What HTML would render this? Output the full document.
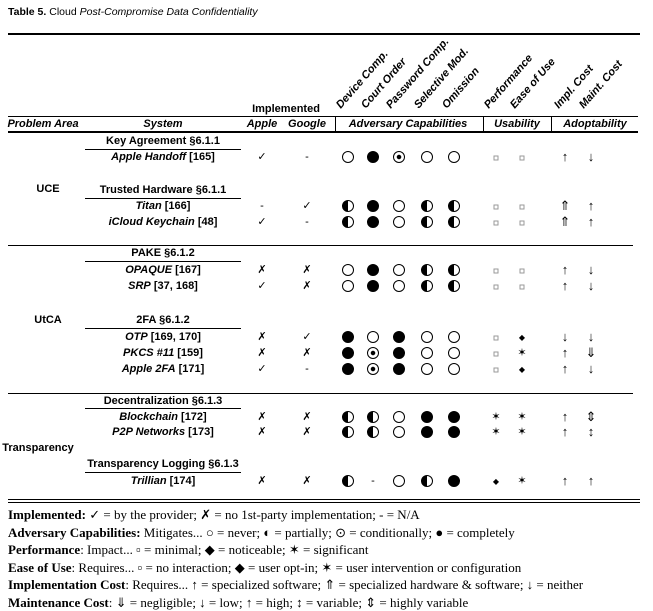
<!DOCTYPE html>
<html><head><meta charset="utf-8"><style>
body{margin:0;background:#fff;width:653px;height:609px;position:relative;overflow:hidden;font-family:"Liberation Sans",sans-serif;color:#000}
.a{position:absolute;white-space:nowrap}
.c{position:absolute;transform:translate(-50%,-50%);white-space:nowrap;font-size:11px;line-height:12px}
.ar{font-size:13px}
.b{font-weight:bold}
.i{font-style:italic}
.hl{position:absolute;background:#000;height:1px}
.vl{position:absolute;background:#000;width:1px}
.o{position:absolute;width:12px;height:12px;border:1px solid #000;border-radius:50%;transform:translate(-50%,-50%);box-sizing:border-box;background:#fff}
.f{background:#000}
.h{background:linear-gradient(to right,#000 50%,#fff 50%)}
.d{background:radial-gradient(circle,#000 0 2px,#fff 2.5px)}
.sq{position:absolute;width:5px;height:5px;border:1px solid #999;transform:translate(-50%,-50%);box-sizing:border-box}
.rot{position:absolute;transform-origin:left bottom;transform:rotate(-49deg);font-size:11px;font-style:italic;font-weight:bold;white-space:nowrap;line-height:12px}
.leg{position:absolute;left:8px;font-family:"Liberation Serif",serif;font-size:13px;white-space:nowrap}
</style></head><body>
<div class="a" style="left:8px;top:6px;font-size:10.5px"><b>Table 5.</b> Cloud <i>Post-Compromise Data Confidentiality</i></div>
<div class="hl" style="left:8px;top:33px;width:632px;height:2px"></div>

<div class="rot" style="left:343px;top:99px">Device Comp.</div>
<div class="rot" style="left:368px;top:99px">Court Order</div>
<div class="rot" style="left:393px;top:99px">Password Comp.</div>
<div class="rot" style="left:421px;top:99px">Selective Mod.</div>
<div class="rot" style="left:449px;top:99px">Omission</div>
<div class="rot" style="left:491px;top:99px">Performance</div>
<div class="rot" style="left:517px;top:99px">Ease of Use</div>
<div class="rot" style="left:561px;top:99px">Impl. Cost</div>
<div class="rot" style="left:586px;top:99px">Maint. Cost</div>
<div class="c b" style="left:286px;top:109px">Implemented</div>
<div class="hl" style="left:8px;top:116px;width:630px"></div>
<div class="vl" style="left:335px;top:117px;height:15px"></div>
<div class="vl" style="left:483px;top:117px;height:15px"></div>
<div class="vl" style="left:551px;top:117px;height:15px"></div>
<div class="c b i" style="left:43px;top:124px">Problem Area</div>
<div class="c b i" style="left:163px;top:124px">System</div>
<div class="c b i" style="left:262px;top:124px">Apple</div>
<div class="c b i" style="left:307px;top:124px">Google</div>
<div class="c b i" style="left:408px;top:124px">Adversary Capabilities</div>
<div class="c b i" style="left:517px;top:124px">Usability</div>
<div class="c b i" style="left:595px;top:124px">Adoptability</div>
<div class="hl" style="left:8px;top:131px;width:630px;height:2px"></div>

<div class="c b" style="left:163px;top:141px">Key Agreement §6.1.1</div>
<div class="hl" style="left:85px;top:149px;width:156px"></div>
<div class="c b" style="left:48px;top:189px">UCE</div>
<div class="c b" style="left:163px;top:190px">Trusted Hardware §6.1.1</div>
<div class="hl" style="left:85px;top:198px;width:156px"></div>
<div class="hl" style="left:8px;top:245px;width:625px"></div>
<div class="c b" style="left:163px;top:253px">PAKE §6.1.2</div>
<div class="hl" style="left:85px;top:261px;width:156px"></div>
<div class="c b" style="left:48px;top:320px">UtCA</div>
<div class="c b" style="left:163px;top:320px">2FA §6.1.2</div>
<div class="hl" style="left:85px;top:328px;width:156px"></div>
<div class="hl" style="left:8px;top:393px;width:625px"></div>
<div class="c b" style="left:163px;top:401px">Decentralization §6.1.3</div>
<div class="hl" style="left:85px;top:408px;width:156px"></div>
<div class="c b" style="left:38px;top:448px">Transparency</div>
<div class="c b" style="left:163px;top:464px">Transparency Logging §6.1.3</div>
<div class="hl" style="left:85px;top:472px;width:156px"></div>

<div class="c b" style="left:163px;top:157px"><i>Apple Handoff</i> [165]</div>
<div class="c" style="left:262px;top:157px">✓</div><div class="c" style="left:307px;top:157px">-</div>
<div class="o" style="left:348px;top:157px"></div><div class="o f" style="left:373px;top:157px"></div><div class="o d" style="left:399px;top:157px"></div><div class="o" style="left:427px;top:157px"></div><div class="o" style="left:454px;top:157px"></div>
<div class="sq" style="left:496px;top:158px"></div><div class="sq" style="left:522px;top:158px"></div>
<div class="c ar" style="left:565px;top:157px">↑</div><div class="c ar" style="left:591px;top:157px">↓</div>

<div class="c b" style="left:163px;top:206px"><i>Titan</i> [166]</div>
<div class="c" style="left:262px;top:206px">-</div><div class="c" style="left:307px;top:206px">✓</div>
<div class="o h" style="left:348px;top:206px"></div><div class="o f" style="left:373px;top:206px"></div><div class="o" style="left:399px;top:206px"></div><div class="o h" style="left:427px;top:206px"></div><div class="o h" style="left:454px;top:206px"></div>
<div class="sq" style="left:496px;top:207px"></div><div class="sq" style="left:522px;top:207px"></div>
<div class="c ar" style="left:565px;top:206px">⇑</div><div class="c ar" style="left:591px;top:206px">↑</div>

<div class="c b" style="left:163px;top:222px"><i>iCloud Keychain</i> [48]</div>
<div class="c" style="left:262px;top:222px">✓</div><div class="c" style="left:307px;top:222px">-</div>
<div class="o h" style="left:348px;top:222px"></div><div class="o f" style="left:373px;top:222px"></div><div class="o" style="left:399px;top:222px"></div><div class="o h" style="left:427px;top:222px"></div><div class="o h" style="left:454px;top:222px"></div>
<div class="sq" style="left:496px;top:223px"></div><div class="sq" style="left:522px;top:223px"></div>
<div class="c ar" style="left:565px;top:222px">⇑</div><div class="c ar" style="left:591px;top:222px">↑</div>

<div class="c b" style="left:163px;top:270px"><i>OPAQUE</i> [167]</div>
<div class="c" style="left:262px;top:270px">✗</div><div class="c" style="left:307px;top:270px">✗</div>
<div class="o" style="left:348px;top:270px"></div><div class="o f" style="left:373px;top:270px"></div><div class="o" style="left:399px;top:270px"></div><div class="o h" style="left:427px;top:270px"></div><div class="o h" style="left:454px;top:270px"></div>
<div class="sq" style="left:496px;top:271px"></div><div class="sq" style="left:522px;top:271px"></div>
<div class="c ar" style="left:565px;top:270px">↑</div><div class="c ar" style="left:591px;top:270px">↓</div>

<div class="c b" style="left:163px;top:286px"><i>SRP</i> [37, 168]</div>
<div class="c" style="left:262px;top:286px">✓</div><div class="c" style="left:307px;top:286px">✗</div>
<div class="o" style="left:348px;top:286px"></div><div class="o f" style="left:373px;top:286px"></div><div class="o" style="left:399px;top:286px"></div><div class="o h" style="left:427px;top:286px"></div><div class="o h" style="left:454px;top:286px"></div>
<div class="sq" style="left:496px;top:287px"></div><div class="sq" style="left:522px;top:287px"></div>
<div class="c ar" style="left:565px;top:286px">↑</div><div class="c ar" style="left:591px;top:286px">↓</div>

<div class="c b" style="left:163px;top:337px"><i>OTP</i> [169, 170]</div>
<div class="c" style="left:262px;top:337px">✗</div><div class="c" style="left:307px;top:337px">✓</div>
<div class="o f" style="left:348px;top:337px"></div><div class="o" style="left:373px;top:337px"></div><div class="o f" style="left:399px;top:337px"></div><div class="o" style="left:427px;top:337px"></div><div class="o" style="left:454px;top:337px"></div>
<div class="sq" style="left:496px;top:338px"></div><div class="c" style="left:522px;top:338px;font-size:8px">◆</div>
<div class="c ar" style="left:565px;top:337px">↓</div><div class="c ar" style="left:591px;top:337px">↓</div>

<div class="c b" style="left:163px;top:353px"><i>PKCS #11</i> [159]</div>
<div class="c" style="left:262px;top:353px">✗</div><div class="c" style="left:307px;top:353px">✗</div>
<div class="o f" style="left:348px;top:353px"></div><div class="o d" style="left:373px;top:353px"></div><div class="o f" style="left:399px;top:353px"></div><div class="o" style="left:427px;top:353px"></div><div class="o" style="left:454px;top:353px"></div>
<div class="sq" style="left:496px;top:354px"></div><div class="c" style="left:522px;top:353px">✶</div>
<div class="c ar" style="left:565px;top:353px">↑</div><div class="c ar" style="left:591px;top:353px">⇓</div>

<div class="c b" style="left:163px;top:369px"><i>Apple 2FA</i> [171]</div>
<div class="c" style="left:262px;top:369px">✓</div><div class="c" style="left:307px;top:369px">-</div>
<div class="o f" style="left:348px;top:369px"></div><div class="o d" style="left:373px;top:369px"></div><div class="o f" style="left:399px;top:369px"></div><div class="o" style="left:427px;top:369px"></div><div class="o" style="left:454px;top:369px"></div>
<div class="sq" style="left:496px;top:370px"></div><div class="c" style="left:522px;top:370px;font-size:8px">◆</div>
<div class="c ar" style="left:565px;top:369px">↑</div><div class="c ar" style="left:591px;top:369px">↓</div>

<div class="c b" style="left:163px;top:417px"><i>Blockchain</i> [172]</div>
<div class="c" style="left:262px;top:417px">✗</div><div class="c" style="left:307px;top:417px">✗</div>
<div class="o h" style="left:348px;top:417px"></div><div class="o h" style="left:373px;top:417px"></div><div class="o" style="left:399px;top:417px"></div><div class="o f" style="left:427px;top:417px"></div><div class="o f" style="left:454px;top:417px"></div>
<div class="c" style="left:496px;top:417px">✶</div><div class="c" style="left:522px;top:417px">✶</div>
<div class="c ar" style="left:565px;top:417px">↑</div><div class="c ar" style="left:591px;top:417px">⇕</div>

<div class="c b" style="left:163px;top:432px"><i>P2P Networks</i> [173]</div>
<div class="c" style="left:262px;top:432px">✗</div><div class="c" style="left:307px;top:432px">✗</div>
<div class="o h" style="left:348px;top:432px"></div><div class="o h" style="left:373px;top:432px"></div><div class="o" style="left:399px;top:432px"></div><div class="o f" style="left:427px;top:432px"></div><div class="o f" style="left:454px;top:432px"></div>
<div class="c" style="left:496px;top:432px">✶</div><div class="c" style="left:522px;top:432px">✶</div>
<div class="c ar" style="left:565px;top:432px">↑</div><div class="c ar" style="left:591px;top:432px">↕</div>

<div class="c b" style="left:163px;top:481px"><i>Trillian</i> [174]</div>
<div class="c" style="left:262px;top:481px">✗</div><div class="c" style="left:307px;top:481px">✗</div>
<div class="o h" style="left:348px;top:481px"></div><div class="c" style="left:373px;top:481px">-</div><div class="o" style="left:399px;top:481px"></div><div class="o h" style="left:427px;top:481px"></div><div class="o f" style="left:454px;top:481px"></div>
<div class="c" style="left:496px;top:482px;font-size:8px">◆</div><div class="c" style="left:522px;top:481px">✶</div>
<div class="c ar" style="left:565px;top:481px">↑</div><div class="c ar" style="left:591px;top:481px">↑</div>

<div class="hl" style="left:8px;top:499px;width:632px"></div>
<div class="hl" style="left:8px;top:502px;width:632px"></div>

<div class="leg" style="top:507px"><b>Implemented:</b> ✓ = by the provider; ✗ = no 1st-party implementation; - = N/A</div>
<div class="leg" style="top:525px"><b>Adversary Capabilities:</b> Mitigates... ○ = never; ◐ = partially; ⊙ = conditionally; ● = completely</div>
<div class="leg" style="top:542px"><b>Performance</b>: Impact... ▫ = minimal; ◆ = noticeable; ✶ = significant</div>
<div class="leg" style="top:560px"><b>Ease of Use</b>: Requires... ▫ = no interaction; ◆ = user opt-in; ✶ = user intervention or configuration</div>
<div class="leg" style="top:577px"><b>Implementation Cost</b>: Requires... ↑ = specialized software; ⇑ = specialized hardware &amp; software; ↓ = neither</div>
<div class="leg" style="top:595px"><b>Maintenance Cost</b>: ⇓ = negligible; ↓ = low; ↑ = high; ↕ = variable; ⇕ = highly variable</div>
</body></html>
